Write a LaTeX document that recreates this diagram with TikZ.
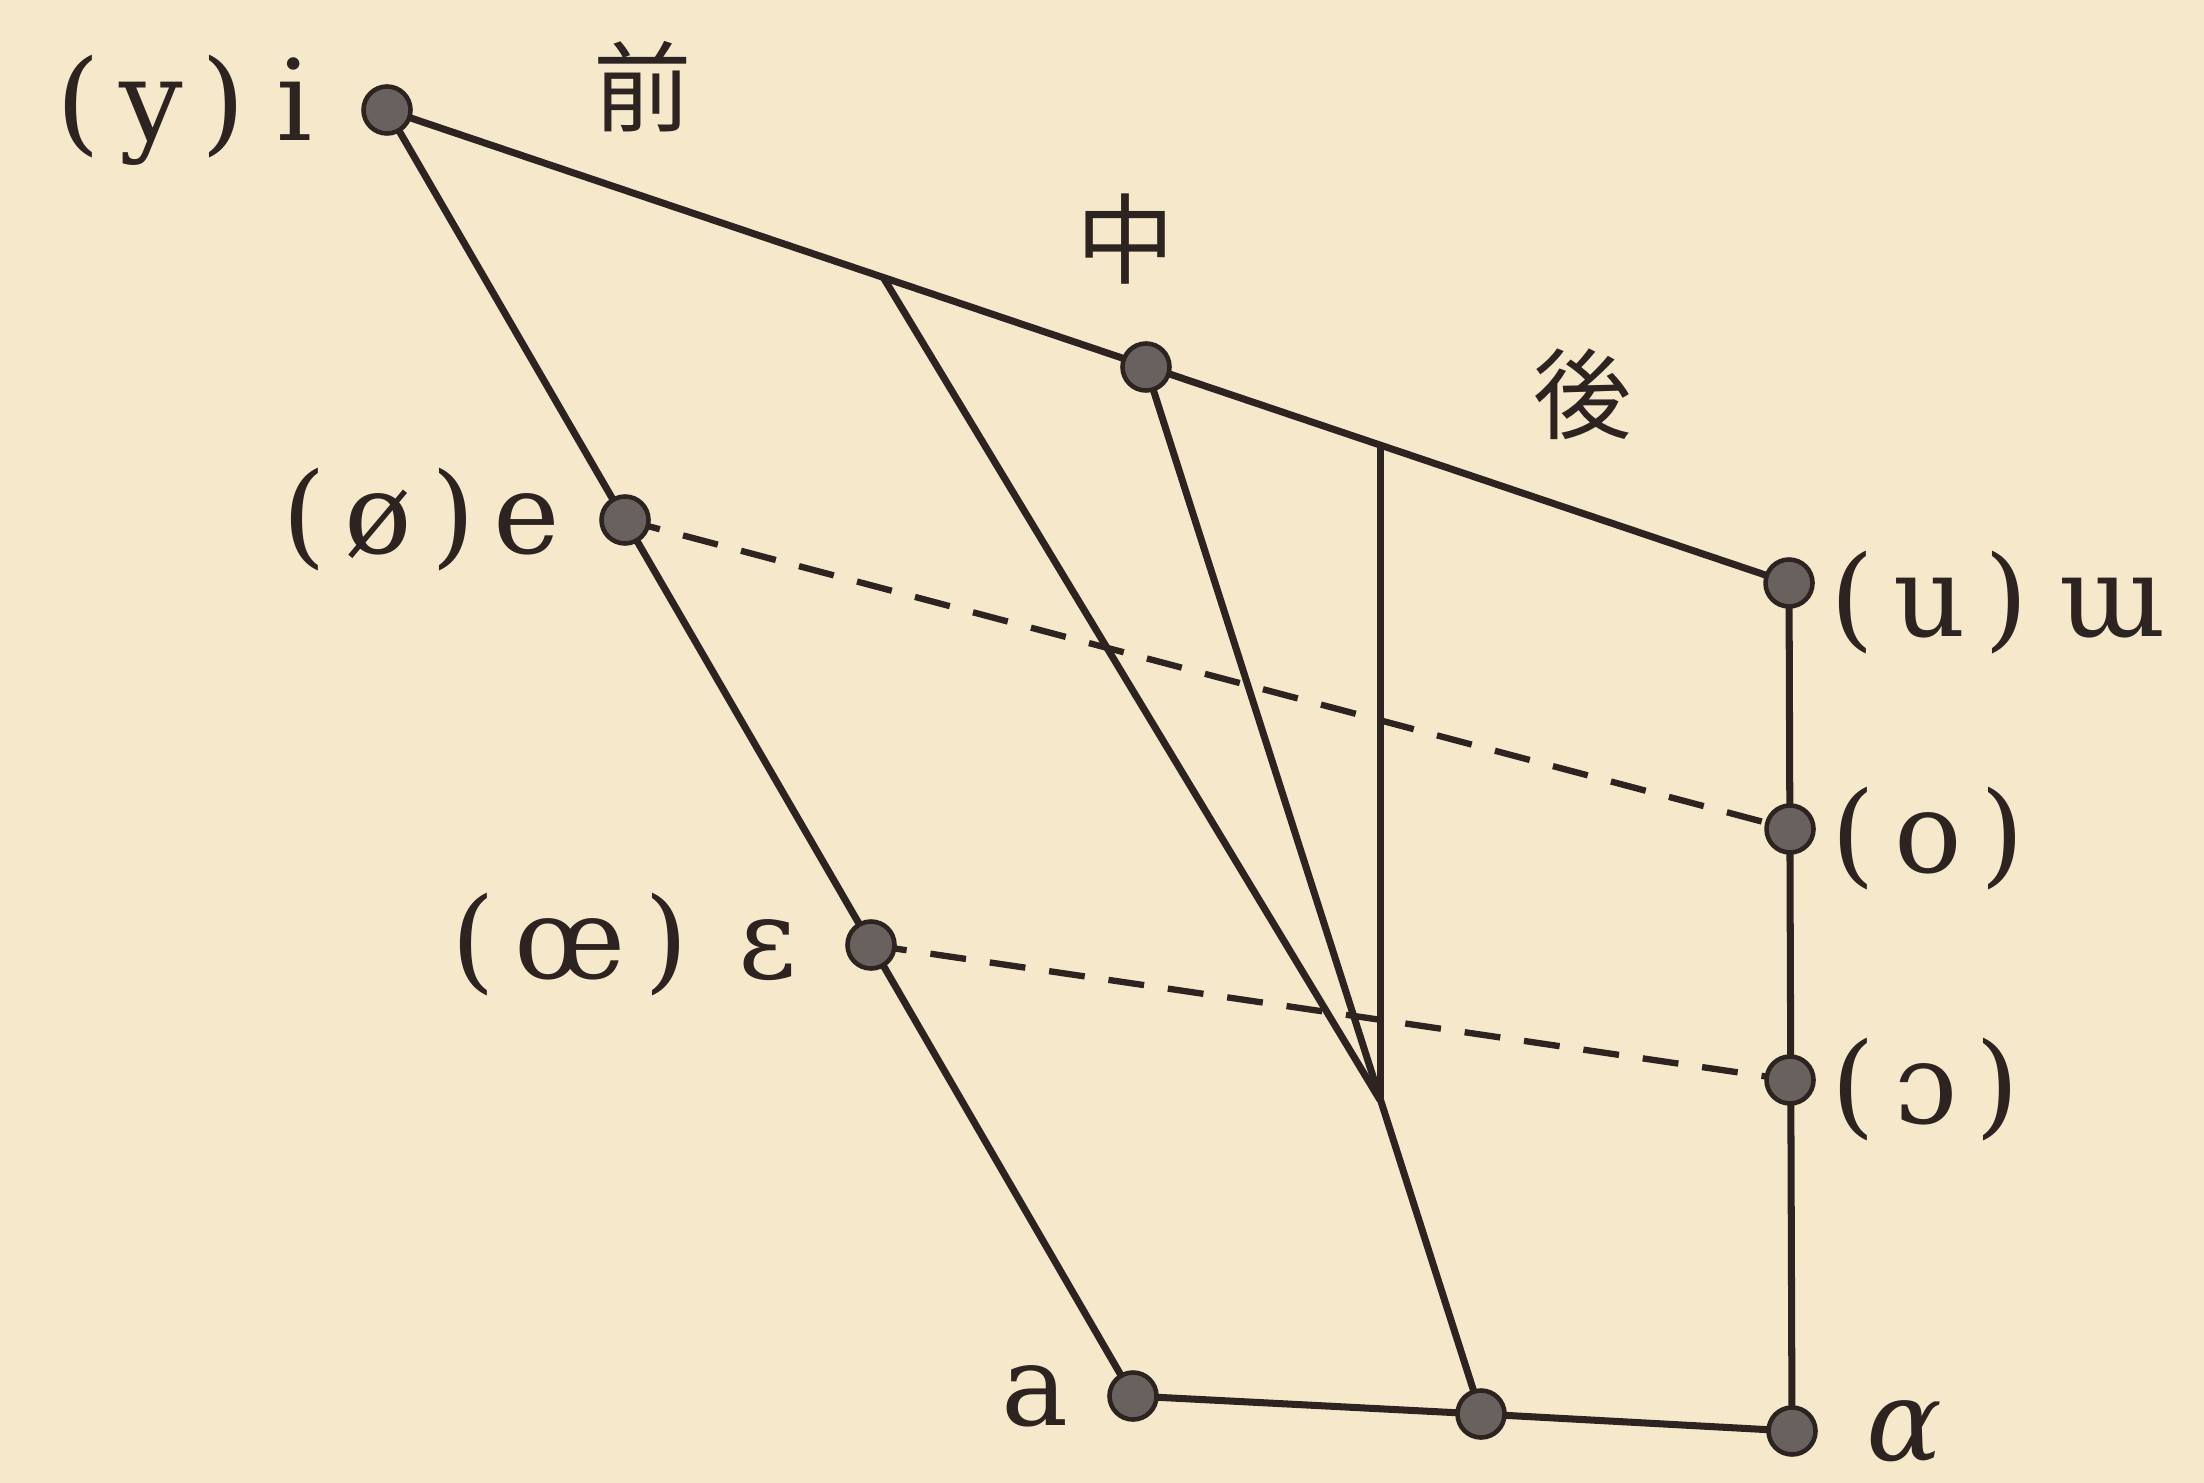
\documentclass[tikz,border=0pt]{standalone}
\usepackage{fontspec}
\setmainfont{DejaVu Serif}
\newfontfamily\jpfont{Noto Sans CJK JP}
\usetikzlibrary{positioning}

\definecolor{paper}{RGB}{246,233,203}
\definecolor{ink}{RGB}{45,35,32}

\begin{document}
\begin{tikzpicture}[x=0.1mm, y=-0.1mm, line join=round,
    dot/.style={circle, fill=ink!72, draw=ink, line width=1.3pt,
        minimum size=4.7mm, inner sep=0pt},
    vowel/.style={inner sep=0pt, text=ink, font=\fontsize{32}{36}\selectfont},
    kanji/.style={inner sep=0pt, text=ink, font=\jpfont\fontsize{28}{32}\selectfont},
    edge/.style={ink, line width=2pt},
    guide/.style={ink, line width=1.8pt, dash pattern=on 3.6mm off 2.4mm}]

    % --- Paper ---
    \fill[paper] (0,0) rectangle (2204,1483);
    \useasboundingbox (0,0) rectangle (2204,1483);

    % --- Coordinates ---
    \coordinate (i)   at (387,110);
    \coordinate (e)   at (625,520);
    \coordinate (eps) at (871,945);
    \coordinate (a)   at (1133,1396);
    \coordinate (m)   at (1146,367);  % central vowel on the top line
    \coordinate (u)   at (1789,583);
    \coordinate (o)   at (1790,829);
    \coordinate (oo)  at (1790,1080);
    \coordinate (mid) at (1481,1414);
    \coordinate (aa)  at (1792,1431);
    \coordinate (top1) at (883,277);
    \coordinate (top2) at (1380,445);
    \coordinate (c)   at (1380,1100); % where the inner lines meet

    % --- Outline ---
    \draw[edge] (i) -- (u) -- (aa) -- (mid) -- (a) -- cycle;

    % --- Inner lines ---
    \draw[edge] (top1) -- (c);
    \draw[edge] (top2) -- (c);
    \draw[edge] (m) -- (mid);

    % --- Rounded pairs (dashed) ---
    \draw[guide] (e) -- (o);
    \draw[guide] (eps) -- (oo);

    % --- Dots ---
    \node[dot] (di)   at (i) {};
    \node[dot] (de)   at (e) {};
    \node[dot] (deps) at (eps) {};
    \node[dot] (da)   at (a) {};
    \node[dot] (dm)   at (m) {};
    \node[dot] (du)   at (u) {};
    \node[dot] (do)   at (o) {};
    \node[dot] (doo)  at (oo) {};
    \node[dot] (dmid) at (mid) {};
    \node[dot] (daa)  at (aa) {};

    % --- Labels ---
    \node[vowel, left=4.8mm of di]   (li)   {(\,y\,)\;i};
    \node[vowel, left=3.8mm of de]   (le)   {(\,ø\,)\,e};
    \node[vowel, left=4.8mm of deps] (leps) {(\,œ\,)\;\,ɛ};
    \node[vowel, left=3.8mm of da]   (la)   {a};
    \node[vowel, right=1.5mm of du, yshift=-2mm]  (lu)  {(\,u\,)\;ɯ};
    \node[vowel, right=1.5mm of do, yshift=-1mm]  (lo)  {(\,o\,)};
    \node[vowel, right=1.5mm of doo, yshift=-1mm] (loo) {(\,ɔ\,)};
    \node[vowel, right=4.8mm of daa] (laa) {\textit{ɑ}};

    \node[kanji] (front)   at (643,87)  {前};
    \node[kanji] (central) at (1126,239) {中};
    \node[kanji] (back)    at (1583,394) {後};

\end{tikzpicture}
\end{document}
